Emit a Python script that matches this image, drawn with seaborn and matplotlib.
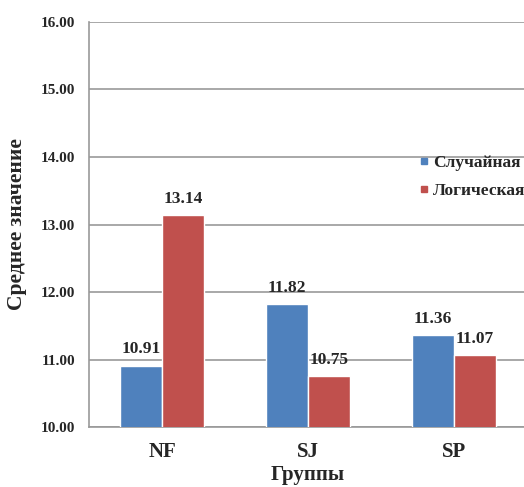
import matplotlib
matplotlib.use("Agg")
import matplotlib.pyplot as plt
from matplotlib.lines import Line2D
import seaborn as sns
import pandas as pd

groups = ["NF", "SJ", "SP"]
series = ["Случайная", "Логическая"]
random_vals = [10.91, 11.82, 11.36]
logical_vals = [13.14, 10.75, 11.07]
colors = ["#4F81BD", "#C0504D"]
yticks = [10, 11, 12, 13, 14, 15, 16]

df = pd.DataFrame({
    "Группы": groups * 2,
    "Серия": [series[0]] * 3 + [series[1]] * 3,
    "Значение": random_vals + logical_vals,
})

sns.set_style("white")
plt.rcParams["font.family"] = ["Liberation Serif", "DejaVu Serif"]
plt.rcParams["font.weight"] = "bold"

fig = plt.figure(figsize=(5.24, 4.87), dpi=100)
ax = fig.add_axes([0.170, 0.123, 0.836, 0.832])

sns.barplot(data=df, x="Группы", y="Значение", hue="Серия", palette=colors,
            width=0.575, ax=ax, saturation=1, zorder=3, legend=False)

ax.set_ylim(10, 16)
ax.set_xlim(-0.5, 2.5)
ax.set_yticks(yticks)
ax.set_yticklabels([f"{v:.2f}" for v in yticks], fontsize=11, fontweight="bold")
ax.set_xticks([0, 1, 2])
ax.set_xticklabels(groups, fontsize=15, fontweight="bold")
ax.tick_params(axis="x", length=0, pad=11)
ax.tick_params(axis="y", length=0, pad=10)
ax.set_xticks([-0.5, 0.5, 1.5, 2.5], minor=True)
ax.tick_params(axis="x", which="minor", length=5, color="#888888", direction="out")

ax.grid(axis="y", color="#999999", linewidth=1.2, zorder=0)
for s in ["top", "right"]:
    ax.spines[s].set_visible(False)
for s in ["left", "bottom"]:
    ax.spines[s].set_color("#999999")
    ax.spines[s].set_linewidth(1.2)

ax.set_xlabel("Группы", fontsize=15, fontweight="bold", labelpad=2)
ax.set_ylabel("Среднее значение", fontsize=15.5, fontweight="bold", labelpad=10)

for cont in ax.containers:
    ax.bar_label(cont, fmt="%.2f", fontsize=12.5, fontweight="bold", padding=6)

handles = [Line2D([], [], marker="s", linestyle="none", markersize=5,
                  markerfacecolor=c, markeredgecolor=c) for c in colors]
fig.legend(handles, series, loc="upper left", bbox_to_anchor=(0.800, 0.682),
           bbox_transform=fig.transFigure, frameon=False, borderpad=0,
           borderaxespad=0, handlelength=0.5, handletextpad=0.3,
           labelspacing=0.67, prop={"weight": "bold", "size": 12.5})

fig.savefig("out.png", dpi=100)
